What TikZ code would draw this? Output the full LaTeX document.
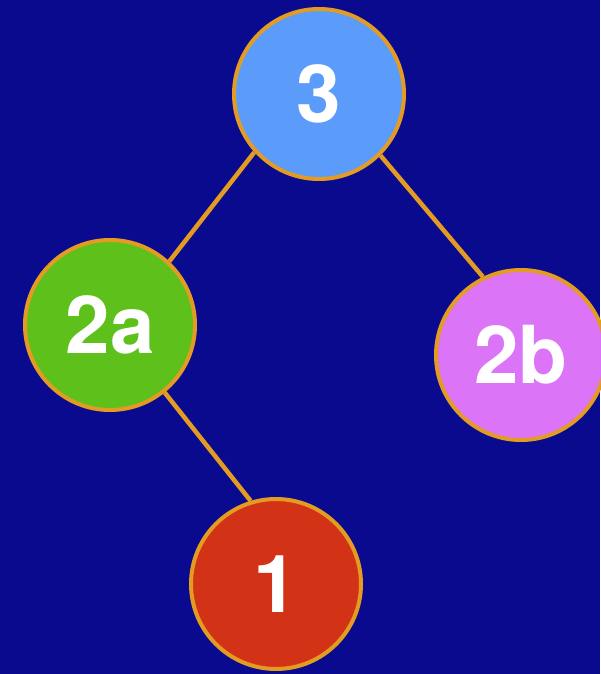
\documentclass[tikz,border=0pt]{standalone}
\usepackage{fontspec}
\setmainfont{TeX Gyre Heros}
\usetikzlibrary{backgrounds}
\definecolor{bgblue}{HTML}{0A0A8E}
\definecolor{nblue}{HTML}{5B9BFA}
\definecolor{ngreen}{HTML}{5EC01A}
\definecolor{npurple}{HTML}{DB74F7}
\definecolor{nred}{HTML}{D23317}
\definecolor{edgeor}{HTML}{E39B22}
\begin{document}
\begin{tikzpicture}[x=1pt,y=-1pt,
  treenode/.style={circle,draw=edgeor,line width=4pt,minimum size=170pt,inner sep=0pt,
    text=white,font=\fontsize{80}{82}\selectfont\bfseries},
  treeedge/.style={draw=edgeor,line width=4.5pt}]
\useasboundingbox (0,0) rectangle (600,674);
\node[treenode,fill=nblue] (n3) at (319,94) {3};
\node[treenode,fill=ngreen] (n2a) at (110,325) {2a};
\node[treenode,fill=npurple] (n2b) at (521,355) {2b};
\node[treenode,fill=nred] (n1) at (276,584) {1};
\begin{scope}[on background layer]
\fill[bgblue] (0,0) rectangle (600,674);
\draw[treeedge] (n3.222.7) -- (n2a.47.5);
\draw[treeedge] (n3.315.5) -- (n2b.116.3);
\draw[treeedge] (n2a.309.4) -- (n1.107);
\end{scope}
\end{tikzpicture}
\end{document}
